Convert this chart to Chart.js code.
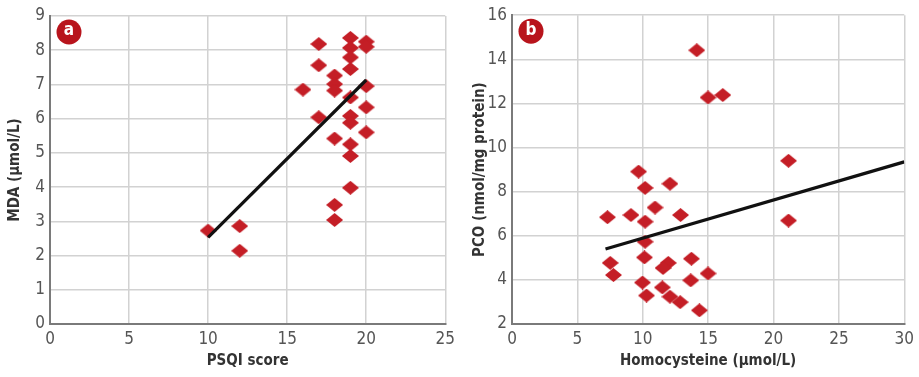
<!DOCTYPE html>
<html>
<head>
<meta charset="utf-8">
<script src="https://cdn.jsdelivr.net/npm/chart.js@4.4.1/dist/chart.umd.min.js"></script>
<style>
  html, body { margin: 0; padding: 0; background: #fff; }
  .wrap { position: absolute; top: 0; height: 377px; }
  #boxA { left: 0; width: 460px; }
  #boxB { left: 460px; width: 459px; }
</style>
</head>
<body>
<div class="wrap" id="boxA"><canvas id="chartA"></canvas></div>
<div class="wrap" id="boxB"><canvas id="chartB"></canvas></div>
<script>
// panel a: PSQI score vs MDA
const psqi = [10, 12, 12, 16, 17, 17, 17, 18, 18, 18, 18, 18, 18, 19, 19, 19, 19, 19, 19, 19, 19, 19, 19, 20, 20, 20, 20, 20];
const mda  = [2.73, 2.86, 2.14, 6.85, 8.18, 7.56, 6.04, 7.26, 7.01, 6.82, 5.42, 3.48, 3.04, 8.36, 8.07, 7.79, 7.45, 6.62, 6.08, 5.88, 5.25, 4.91, 3.98, 8.25, 8.1, 6.95, 6.33, 5.6];
const psqiFit = [10, 20];
const mdaFit  = [2.53, 7.13];
const psqiTicks = [0, 5, 10, 15, 20, 25];
const mdaTicks  = [0, 1, 2, 3, 4, 5, 6, 7, 8, 9];

// panel b: homocysteine vs PCO
const hcy = [14.13, 14.99, 16.12, 21.15, 21.15, 9.68, 10.18, 12.08, 10.94, 7.3, 9.1, 10.18, 12.89, 10.18, 7.51, 7.76, 10.13, 11.95, 11.55, 13.72, 14.99, 9.98, 10.29, 11.5, 12.08, 12.86, 13.67, 14.33];
const pco = [14.41, 12.27, 12.38, 9.4, 6.69, 8.91, 8.17, 8.36, 7.28, 6.84, 6.94, 6.64, 6.94, 5.73, 4.77, 4.22, 5.02, 4.77, 4.54, 4.96, 4.29, 3.88, 3.29, 3.66, 3.24, 2.99, 3.98, 2.62];
const hcyFit = [7.15, 30];
const pcoFit = [5.40, 9.35];
const hcyTicks = [0, 5, 10, 15, 20, 25, 30];
const pcoTicks = [2, 4, 6, 8, 10, 12, 14, 16];

const FONT = "'Liberation Sans Narrow', 'DejaVu Sans Condensed', 'Liberation Sans', sans-serif";
const RED = '#c41e26';

// diamond marker, a bit wider than tall
function makeDiamond() {
  const c = document.createElement('canvas');
  c.width = 17; c.height = 14;
  const g = c.getContext('2d');
  g.fillStyle = RED;
  g.beginPath();
  g.moveTo(8.5, 0); g.lineTo(17, 7); g.lineTo(8.5, 14); g.lineTo(0, 7);
  g.closePath();
  g.fill();
  return c;
}
const diamond = makeDiamond();

const badge = {
  id: 'badge',
  afterDraw(chart, args, opts) {
    const ctx = chart.ctx;
    const a = chart.chartArea;
    ctx.save();
    ctx.fillStyle = '#b8141c';
    ctx.beginPath();
    ctx.arc(a.left + 19, a.top + 16, 12.5, 0, Math.PI * 2);
    ctx.fill();
    ctx.fillStyle = '#fff';
    ctx.font = "bold 17px " + FONT;
    ctx.textAlign = 'center';
    ctx.textBaseline = 'middle';
    ctx.fillText(opts.text, a.left + 19, a.top + 15);
    ctx.restore();
  }
};

function makeChart(id, xs, ys, fx, fy, xT, yT, xTitle, yTitle, letter, pad, yWidth, yTitlePad) {
  const pts = xs.map((x, i) => ({ x: x, y: ys[i] }));
  const line = fx.map((x, i) => ({ x: x, y: fy[i] }));
  return new Chart(document.getElementById(id), {
    type: 'scatter',
    data: {
      datasets: [
        {
          data: line, type: 'line', showLine: true,
          borderColor: '#111', borderWidth: 3.2, pointRadius: 0, fill: false, order: 0
        },
        {
          data: pts, pointStyle: diamond, pointRadius: 8, order: 1
        }
      ]
    },
    options: {
      responsive: true,
      maintainAspectRatio: false,
      animation: false,
      layout: { padding: pad },
      plugins: {
        legend: { display: false },
        tooltip: { enabled: false },
        badge: { text: letter }
      },
      scales: {
        x: {
          type: 'linear',
          min: xT[0], max: xT[xT.length - 1],
          afterBuildTicks: ax => { ax.ticks = xT.map(v => ({ value: v })); },
          afterFit: ax => { ax.height = 53; },
          grid: { color: '#d2d2d2', lineWidth: 1.5, drawTicks: false },
          border: { color: '#7a7a7a', width: 2 },
          ticks: { color: '#555', font: { family: FONT, size: 17 }, padding: 5, maxRotation: 0 },
          title: { display: true, text: xTitle, color: '#333', font: { family: FONT, size: 15, weight: 'bold' }, padding: { top: 0, bottom: 7 } }
        },
        y: {
          type: 'linear',
          min: yT[0], max: yT[yT.length - 1],
          afterBuildTicks: ax => { ax.ticks = yT.map(v => ({ value: v })); },
          afterFit: ax => { ax.width = yWidth; },
          grid: { color: '#d2d2d2', lineWidth: 1.5, drawTicks: false },
          border: { color: '#7a7a7a', width: 2 },
          ticks: { color: '#555', font: { family: FONT, size: 17 }, padding: 5 },
          title: { display: true, text: yTitle, color: '#333', font: { family: FONT, size: 15, weight: 'bold' }, padding: { top: yTitlePad, bottom: 0 } }
        }
      }
    },
    plugins: [badge]
  });
}

makeChart('chartA', psqi, mda, psqiFit, mdaFit, psqiTicks, mdaTicks,
  'PSQI score', 'MDA (μmol/L)', 'a', { left: 0, right: 10, top: 16, bottom: 0 }, 50, 6);
makeChart('chartB', hcy, pco, hcyFit, pcoFit, hcyTicks, pcoTicks,
  'Homocysteine (μmol/L)', 'PCO (nmol/mg protein)', 'b', { left: 0, right: 12, top: 8, bottom: 0 }, 52, 11);
</script>
</body>
</html>
